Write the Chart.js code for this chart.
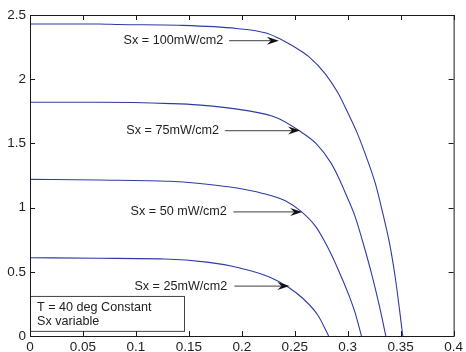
<!DOCTYPE html>
<html>
<head>
<meta charset="utf-8">
<script src="https://cdn.jsdelivr.net/npm/chart.js@4/dist/chart.umd.min.js"></script>
<style>
  html, body { margin: 0; background: #fff; }
</style>
</head>
<body>
<canvas id="grafico" width="466" height="352"></canvas>
<script>
// Curvas I-V a T = 40 graus, uma por irradiancia (tensao V, corrente A)
const v100 = [0, 0.065, 0.084, 0.14, 0.195, 0.223, 0.235, 0.242, 0.251, 0.263, 0.279, 0.291, 0.300, 0.309, 0.316, 0.326, 0.333, 0.340, 0.345, 0.349, 0.352];
const i100 = [2.43, 2.43, 2.426, 2.42, 2.395, 2.36, 2.318, 2.288, 2.245, 2.178, 2.04, 1.89, 1.74, 1.58, 1.43, 1.19, 0.96, 0.70, 0.45, 0.20, 0];

const v75 = [0, 0.065, 0.133, 0.158, 0.205, 0.233, 0.254, 0.270, 0.284, 0.291, 0.298, 0.307, 0.314, 0.323, 0.330, 0.336];
const i75 = [1.82, 1.82, 1.81, 1.80, 1.755, 1.70, 1.60, 1.50, 1.35, 1.24, 1.11, 0.93, 0.74, 0.47, 0.23, 0];

const v50 = [0, 0.065, 0.132, 0.158, 0.189, 0.220, 0.242, 0.256, 0.270, 0.278, 0.286, 0.294, 0.301, 0.307, 0.313];
const i50 = [1.22, 1.215, 1.205, 1.19, 1.16, 1.11, 1.05, 0.97, 0.85, 0.74, 0.61, 0.46, 0.32, 0.18, 0];

const v25 = [0, 0.065, 0.127, 0.167, 0.198, 0.226, 0.244, 0.258, 0.272, 0.282];
const i25 = [0.61, 0.605, 0.60, 0.575, 0.53, 0.46, 0.38, 0.29, 0.16, 0];

// Textos das setas: posicao do texto, inicio e ponta da seta (em V, A)
const notas = ['Sx = 100mW/cm2', 'Sx = 75mW/cm2', 'Sx = 50 mW/cm2', 'Sx = 25mW/cm2'];
const notaX = [0.0884, 0.091, 0.095, 0.0986];
const notaY = [2.30, 1.60, 0.966, 0.389];
const setaIni = [0.188, 0.184, 0.192, 0.193];
const setaFim = [0.235, 0.255, 0.257, 0.245];

const caixaTexto = ['T = 40 deg Constant', 'Sx variable'];

const ticksX = [0, 0.05, 0.1, 0.15, 0.2, 0.25, 0.3, 0.35, 0.4];
const ticksY = [0, 0.5, 1, 1.5, 2, 2.5];

const pontos = (vs, is) => vs.map((v, k) => ({ x: v, y: is[k] }));

const curva = (vs, is) => ({
    data: pontos(vs, is),
    borderColor: '#2d3ca6',
    borderWidth: 1.1,
    pointRadius: 0,
    cubicInterpolationMode: 'monotone',
    fill: false
});

const fonteNota = '12.6px "Liberation Sans", Arial, sans-serif';

// Desenha setas, caixa de texto, moldura e ticks para dentro
const moldura = {
    id: 'moldura',
    afterDraw(chart) {
        const { ctx, chartArea: a, scales: { x, y } } = chart;
        ctx.save();

        ctx.font = fonteNota;
        ctx.textBaseline = 'middle';
        ctx.textAlign = 'left';
        notas.forEach((t, k) => {
            const py = y.getPixelForValue(notaY[k]);
            ctx.fillStyle = '#222';
            ctx.fillText(t, x.getPixelForValue(notaX[k]), py);

            const x0 = x.getPixelForValue(setaIni[k]);
            const x1 = x.getPixelForValue(setaFim[k]);
            ctx.strokeStyle = '#666';
            ctx.lineWidth = 1.3;
            ctx.beginPath();
            ctx.moveTo(x0, py);
            ctx.lineTo(x1 - 6, py);
            ctx.stroke();

            ctx.fillStyle = '#111';
            ctx.beginPath();
            ctx.moveTo(x1, py);
            ctx.lineTo(x1 - 12, py - 4);
            ctx.lineTo(x1 - 8, py);
            ctx.lineTo(x1 - 12, py + 4);
            ctx.closePath();
            ctx.fill();
        });

        // caixa no canto inferior esquerdo
        const bx = a.left, by = y.getPixelForValue(0.312);
        const bw = 154, bh = y.getPixelForValue(0.04) - by;
        ctx.fillStyle = '#fff';
        ctx.fillRect(bx, by, bw, bh);
        ctx.strokeStyle = '#444';
        ctx.lineWidth = 1;
        ctx.strokeRect(bx + 0.5, by + 0.5, bw, bh);
        ctx.fillStyle = '#222';
        caixaTexto.forEach((t, k) => ctx.fillText(t, bx + 7, by + 12 + k * 14));

        // moldura
        ctx.strokeStyle = '#1a1a1a';
        ctx.lineWidth = 1;
        ctx.strokeRect(a.left + 0.5, a.top + 0.5, a.right - a.left, a.bottom - a.top);

        ctx.beginPath();
        ticksX.forEach(v => {
            const px = Math.round(x.getPixelForValue(v)) + 0.5;
            ctx.moveTo(px, a.bottom); ctx.lineTo(px, a.bottom - 5);
            ctx.moveTo(px, a.top); ctx.lineTo(px, a.top + 5);
        });
        ticksY.forEach(v => {
            const py = Math.round(y.getPixelForValue(v)) + 0.5;
            ctx.moveTo(a.left, py); ctx.lineTo(a.left + 5, py);
            ctx.moveTo(a.right, py); ctx.lineTo(a.right - 5, py);
        });
        ctx.stroke();

        ctx.restore();
    }
};

const fonteEixo = { family: '"Liberation Sans", Arial, sans-serif', size: 13.5 };

new Chart(document.getElementById('grafico'), {
    type: 'line',
    data: {
        datasets: [curva(v100, i100), curva(v75, i75), curva(v50, i50), curva(v25, i25)]
    },
    options: {
        responsive: false,
        animation: false,
        layout: { padding: { left: 0, top: 15, right: 7, bottom: 0 } },
        plugins: { legend: { display: false }, tooltip: { enabled: false } },
        scales: {
            x: {
                type: 'linear',
                min: 0,
                max: 0.4,
                afterBuildTicks: s => { s.ticks = ticksX.map(v => ({ value: v })); },
                afterFit: s => { s.height = 16; },
                grid: { display: false, drawTicks: false, tickLength: 0 },
                border: { display: false },
                ticks: {
                    color: '#222',
                    font: fonteEixo,
                    padding: 3,
                    maxRotation: 0,
                    autoSkip: false,
                    callback: v => String(v)
                }
            },
            y: {
                type: 'linear',
                min: 0,
                max: 2.5,
                afterBuildTicks: s => { s.ticks = ticksY.map(v => ({ value: v })); },
                afterFit: s => { s.width = 30; },
                grid: { display: false, drawTicks: false, tickLength: 0 },
                border: { display: false },
                ticks: {
                    color: '#222',
                    font: fonteEixo,
                    padding: 4,
                    autoSkip: false,
                    callback: v => String(v)
                }
            }
        }
    },
    plugins: [moldura]
});
</script>
</body>
</html>
